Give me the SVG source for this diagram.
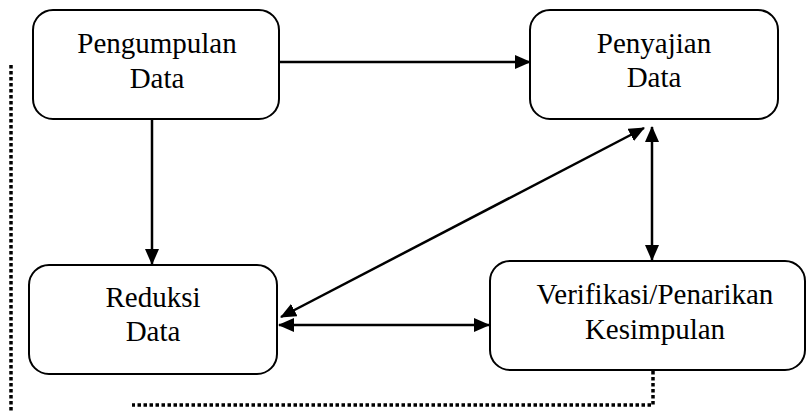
<svg xmlns="http://www.w3.org/2000/svg" width="806" height="412" viewBox="0 0 806 412">
<style>
.box{fill:#fff;stroke:#000;stroke-width:2}
.t{font-family:"Liberation Serif","Times New Roman",serif;font-size:29px;fill:#000;text-anchor:middle}
.c{stroke:#000;stroke-width:2.5;fill:none}
.dot{stroke:#000;stroke-width:3.5;fill:none;stroke-dasharray:3.5 2.5}
</style>
<defs>
<marker id="ah" markerUnits="userSpaceOnUse" markerWidth="16" markerHeight="14" refX="15" refY="7" orient="auto-start-reverse" viewBox="0 0 16 14">
<path d="M0,0 L16,7 L0,14 Z" fill="#000"/>
</marker>
</defs>
<g id="connectors">
<line class="c" x1="279" y1="62" x2="530" y2="62" marker-end="url(#ah)"/>
<line class="c" x1="152" y1="119" x2="152" y2="264" marker-end="url(#ah)"/>
<line class="c" x1="644" y1="128" x2="281" y2="317" marker-start="url(#ah)" marker-end="url(#ah)"/>
<line class="c" x1="652" y1="127" x2="652" y2="260" marker-start="url(#ah)" marker-end="url(#ah)"/>
<line class="c" x1="279" y1="325" x2="489" y2="325" marker-start="url(#ah)" marker-end="url(#ah)"/>
<polyline class="dot" points="653,371 653,405 132,405"/>
<line class="dot" x1="11" y1="65" x2="11" y2="412"/>
</g>
<g id="pengumpulan">
<rect class="box" x="33" y="10" width="246" height="109" rx="20"/>
<text class="t" x="157" y="53">Pengumpulan</text>
<text class="t" x="157" y="88">Data</text>
</g>
<g id="penyajian">
<rect class="box" x="530" y="10" width="248" height="109" rx="20"/>
<text class="t" x="654" y="53">Penyajian</text>
<text class="t" x="654" y="87">Data</text>
</g>
<g id="reduksi">
<rect class="box" x="29" y="265" width="248" height="109" rx="20"/>
<text class="t" x="153" y="307">Reduksi</text>
<text class="t" x="153" y="341">Data</text>
</g>
<g id="verifikasi">
<rect class="box" x="490" y="261" width="315" height="109" rx="20"/>
<text class="t" x="655" y="304">Verifikasi/Penarikan</text>
<text class="t" x="655" y="339">Kesimpulan</text>
</g>
</svg>
